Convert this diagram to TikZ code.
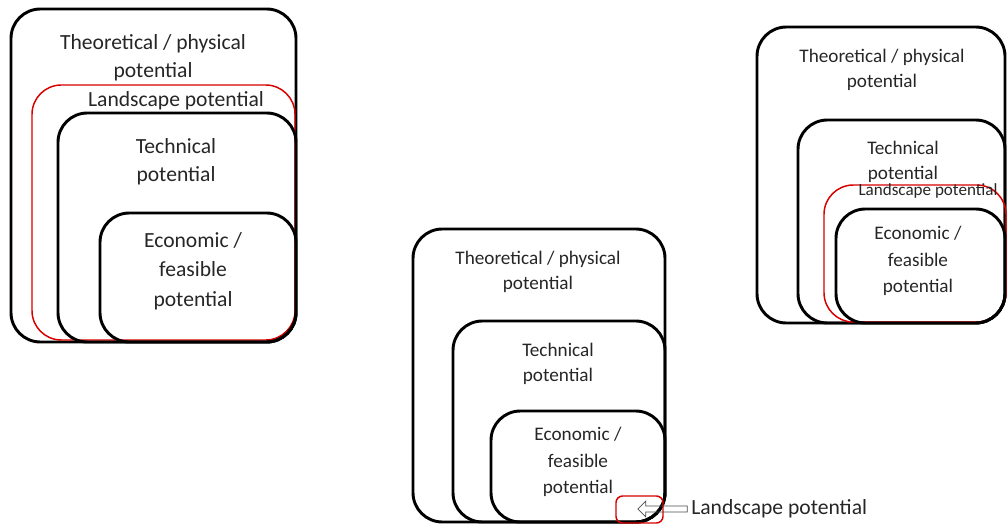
\documentclass[tikz,border=0pt]{standalone}
\usepackage{fontspec}
\setmainfont{Carlito}
\usetikzlibrary{shapes.arrows}

\begin{document}
\begin{tikzpicture}[x=0.75pt, y=-0.75pt,
  box/.style={draw=black, line width=2.2pt, rounded corners=22pt},
  landbox/.style={draw=red!85!black, line width=1.1pt, rounded corners=22pt},
  lbl/.style={align=center, text=black!85, inner sep=0pt},
  big/.style={lbl, font=\fontsize{16.2}{21}\selectfont},
  mid/.style={lbl, font=\fontsize{14.4}{19}\selectfont},
  small/.style={lbl, font=\fontsize{12.8}{14}\selectfont}]
  \useasboundingbox (0,0) rectangle (1007,524);

  % left: landscape between physical and technical
  \draw[box] (11,9) rectangle (296,342);
  \draw[landbox] (32,85) rectangle (295,340);
  \draw[box] (58,113) rectangle (296,342);
  \draw[box] (100,213) rectangle (296,342);
  \node[big] (theoL) at (153,58) {Theoretical / physical\\potential};
  \node[big] (landL) at (176,101) {Landscape potential};
  \node[big] (techL) at (176,162) {Technical\\potential};
  \node[big, font=\fontsize{16.2}{22}\selectfont] (econL) at (193,271) {Economic /\\feasible\\potential};

  % middle: landscape almost nothing
  \draw[box] (413,229) rectangle (665,522);
  \draw[box] (453,321) rectangle (665,522);
  \draw[box] (491,411) rectangle (665,522);
  \draw[landbox, rounded corners=5pt] (616,496) rectangle (663,523);
  \node[mid] (theoM) at (538,272) {Theoretical / physical\\potential};
  \node[mid] (techM) at (558,364) {Technical\\potential};
  \node[mid, font=\fontsize{14.4}{20}\selectfont] (econM) at (578,462) {Economic /\\feasible\\potential};
  \node[big, anchor=west] (landM) at (691,509) {Landscape potential};
  \node[single arrow, draw=black!70, line width=0.6pt, shape border rotate=180,
    minimum height=37pt, minimum width=12pt, single arrow head extend=3pt,
    inner sep=1.5pt] (arrM) at (664,509) {};

  % right: landscape inside technical
  \draw[box] (757,27) rectangle (1005,323);
  \draw[box] (798,120) rectangle (1005,323);
  \draw[landbox] (824,185) rectangle (1006,322);
  \draw[box] (836,209) rectangle (1005,323);
  \node[mid] (theoR) at (882,70) {Theoretical / physical\\potential};
  \node[mid] (techR) at (903,162) {Technical\\potential};
  \node[small] (landR) at (928,191) {Landscape potential};
  \node[mid, font=\fontsize{14.4}{20}\selectfont] (econR) at (918,261) {Economic /\\feasible\\potential};
\end{tikzpicture}
\end{document}
